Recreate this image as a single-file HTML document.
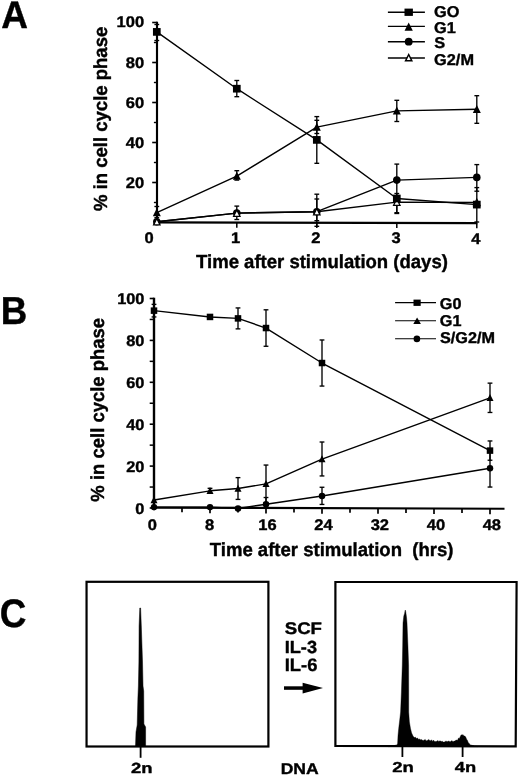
<!DOCTYPE html>
<html><head><meta charset="utf-8"><title>Figure</title>
<style>
html,body{margin:0;padding:0;background:#fff;}
body{width:520px;height:777px;overflow:hidden;font-family:"Liberation Sans",sans-serif;}
svg{display:block;will-change:transform;opacity:0.999}
text{text-rendering:geometricPrecision;white-space:pre}
</style></head><body>
<svg width="520" height="777" viewBox="0 0 520 777">
<rect width="520" height="777" fill="#fff"/>
<text transform="translate(1.34,28.00) scale(0.3701,0.3866)" font-size="100" font-family="Liberation Sans, sans-serif" font-weight="bold" xml:space="preserve" stroke="#000" stroke-width="1.06" stroke-linejoin="round">A</text>
<line x1="157.00" y1="21.70" x2="157.00" y2="223.70" stroke="#000" stroke-width="2.15" stroke-linecap="butt"/>
<line x1="155.60" y1="222.35" x2="477.40" y2="223.20" stroke="#000" stroke-width="2.25" stroke-linecap="butt"/>
<line x1="153.90" y1="202.50" x2="156.80" y2="202.50" stroke="#000" stroke-width="1.4" stroke-linecap="butt"/>
<line x1="152.20" y1="182.50" x2="156.80" y2="182.50" stroke="#000" stroke-width="1.6" stroke-linecap="butt"/>
<line x1="153.90" y1="162.50" x2="156.80" y2="162.50" stroke="#000" stroke-width="1.4" stroke-linecap="butt"/>
<line x1="152.20" y1="142.50" x2="156.80" y2="142.50" stroke="#000" stroke-width="1.6" stroke-linecap="butt"/>
<line x1="153.90" y1="122.50" x2="156.80" y2="122.50" stroke="#000" stroke-width="1.4" stroke-linecap="butt"/>
<line x1="152.20" y1="102.50" x2="156.80" y2="102.50" stroke="#000" stroke-width="1.6" stroke-linecap="butt"/>
<line x1="153.90" y1="82.50" x2="156.80" y2="82.50" stroke="#000" stroke-width="1.4" stroke-linecap="butt"/>
<line x1="152.20" y1="62.50" x2="156.80" y2="62.50" stroke="#000" stroke-width="1.6" stroke-linecap="butt"/>
<line x1="153.90" y1="42.50" x2="156.80" y2="42.50" stroke="#000" stroke-width="1.4" stroke-linecap="butt"/>
<line x1="152.20" y1="22.50" x2="156.80" y2="22.50" stroke="#000" stroke-width="1.6" stroke-linecap="butt"/>
<text transform="translate(125.71,187.80) scale(0.1650,0.1550)" font-size="100" font-family="Liberation Sans, sans-serif" font-weight="bold" xml:space="preserve" stroke="#000" stroke-width="2.50" stroke-linejoin="round">20</text>
<text transform="translate(125.71,147.80) scale(0.1650,0.1550)" font-size="100" font-family="Liberation Sans, sans-serif" font-weight="bold" xml:space="preserve" stroke="#000" stroke-width="2.50" stroke-linejoin="round">40</text>
<text transform="translate(125.71,107.80) scale(0.1650,0.1550)" font-size="100" font-family="Liberation Sans, sans-serif" font-weight="bold" xml:space="preserve" stroke="#000" stroke-width="2.50" stroke-linejoin="round">60</text>
<text transform="translate(125.71,67.80) scale(0.1650,0.1550)" font-size="100" font-family="Liberation Sans, sans-serif" font-weight="bold" xml:space="preserve" stroke="#000" stroke-width="2.50" stroke-linejoin="round">80</text>
<text transform="translate(116.54,26.60) scale(0.1650,0.1550)" font-size="100" font-family="Liberation Sans, sans-serif" font-weight="bold" xml:space="preserve" stroke="#000" stroke-width="2.50" stroke-linejoin="round">100</text>
<line x1="236.80" y1="222.70" x2="236.80" y2="227.70" stroke="#000" stroke-width="1.5" stroke-linecap="butt"/>
<line x1="316.80" y1="222.90" x2="316.80" y2="227.90" stroke="#000" stroke-width="1.5" stroke-linecap="butt"/>
<line x1="396.80" y1="223.10" x2="396.80" y2="228.10" stroke="#000" stroke-width="1.5" stroke-linecap="butt"/>
<line x1="476.80" y1="223.30" x2="476.80" y2="228.30" stroke="#000" stroke-width="1.5" stroke-linecap="butt"/>
<text transform="translate(144.61,242.80) scale(0.1650,0.1530)" font-size="100" font-family="Liberation Sans, sans-serif" font-weight="bold" xml:space="preserve" stroke="#000" stroke-width="2.52" stroke-linejoin="round">0</text>
<text transform="translate(231.03,243.02) scale(0.1650,0.1530)" font-size="100" font-family="Liberation Sans, sans-serif" font-weight="bold" xml:space="preserve" stroke="#000" stroke-width="2.52" stroke-linejoin="round">1</text>
<text transform="translate(311.36,243.24) scale(0.1650,0.1530)" font-size="100" font-family="Liberation Sans, sans-serif" font-weight="bold" xml:space="preserve" stroke="#000" stroke-width="2.52" stroke-linejoin="round">2</text>
<text transform="translate(391.41,243.46) scale(0.1650,0.1530)" font-size="100" font-family="Liberation Sans, sans-serif" font-weight="bold" xml:space="preserve" stroke="#000" stroke-width="2.52" stroke-linejoin="round">3</text>
<text transform="translate(471.23,243.68) scale(0.1650,0.1530)" font-size="100" font-family="Liberation Sans, sans-serif" font-weight="bold" xml:space="preserve" stroke="#000" stroke-width="2.52" stroke-linejoin="round">4</text>
<text transform="translate(196.08,268.45) scale(0.1852,0.1899)" font-size="100" font-family="Liberation Sans, sans-serif" font-weight="bold" xml:space="preserve" stroke="#000" stroke-width="2.13" stroke-linejoin="round">Time after stimulation (days)</text>
<text transform="translate(106.55,210.94) rotate(-90) scale(0.1851,0.1899)" font-size="100" font-family="Liberation Sans, sans-serif" font-weight="bold" xml:space="preserve" stroke="#000" stroke-width="2.13" stroke-linejoin="round">% in cell cycle phase</text>
<polyline points="156.80,31.90 236.80,88.70 316.80,139.90 396.80,198.50 476.80,204.60" fill="none" stroke="#000" stroke-width="1.4" stroke-linejoin="round"/>
<polyline points="156.80,212.70 236.80,176.10 316.80,127.10 396.80,110.90 476.80,109.30" fill="none" stroke="#000" stroke-width="1.4" stroke-linejoin="round"/>
<polyline points="156.80,221.70 236.80,213.10 316.80,211.70 396.80,180.10 476.80,177.40" fill="none" stroke="#000" stroke-width="1.4" stroke-linejoin="round"/>
<polyline points="156.80,221.70 236.80,213.10 316.80,211.70 396.80,202.10 476.80,202.50" fill="none" stroke="#000" stroke-width="1.4" stroke-linejoin="round"/>
<line x1="156.80" y1="24.50" x2="156.80" y2="40.50" stroke="#000" stroke-width="1.35" stroke-linecap="butt"/>
<line x1="154.40" y1="24.50" x2="159.20" y2="24.50" stroke="#000" stroke-width="1.35" stroke-linecap="butt"/>
<line x1="154.40" y1="40.50" x2="159.20" y2="40.50" stroke="#000" stroke-width="1.35" stroke-linecap="butt"/>
<line x1="236.80" y1="80.50" x2="236.80" y2="96.70" stroke="#000" stroke-width="1.35" stroke-linecap="butt"/>
<line x1="234.40" y1="80.50" x2="239.20" y2="80.50" stroke="#000" stroke-width="1.35" stroke-linecap="butt"/>
<line x1="234.40" y1="96.70" x2="239.20" y2="96.70" stroke="#000" stroke-width="1.35" stroke-linecap="butt"/>
<line x1="316.80" y1="120.30" x2="316.80" y2="163.30" stroke="#000" stroke-width="1.35" stroke-linecap="butt"/>
<line x1="314.40" y1="120.30" x2="319.20" y2="120.30" stroke="#000" stroke-width="1.35" stroke-linecap="butt"/>
<line x1="314.40" y1="163.30" x2="319.20" y2="163.30" stroke="#000" stroke-width="1.35" stroke-linecap="butt"/>
<line x1="396.80" y1="193.50" x2="396.80" y2="213.50" stroke="#000" stroke-width="1.35" stroke-linecap="butt"/>
<line x1="394.40" y1="193.50" x2="399.20" y2="193.50" stroke="#000" stroke-width="1.35" stroke-linecap="butt"/>
<line x1="394.40" y1="213.50" x2="399.20" y2="213.50" stroke="#000" stroke-width="1.35" stroke-linecap="butt"/>
<line x1="476.80" y1="187.60" x2="476.80" y2="222.00" stroke="#000" stroke-width="1.35" stroke-linecap="butt"/>
<line x1="474.40" y1="187.60" x2="479.20" y2="187.60" stroke="#000" stroke-width="1.35" stroke-linecap="butt"/>
<line x1="474.40" y1="222.00" x2="479.20" y2="222.00" stroke="#000" stroke-width="1.35" stroke-linecap="butt"/>
<line x1="156.80" y1="206.50" x2="156.80" y2="217.70" stroke="#000" stroke-width="1.35" stroke-linecap="butt"/>
<line x1="154.40" y1="206.50" x2="159.20" y2="206.50" stroke="#000" stroke-width="1.35" stroke-linecap="butt"/>
<line x1="154.40" y1="217.70" x2="159.20" y2="217.70" stroke="#000" stroke-width="1.35" stroke-linecap="butt"/>
<line x1="236.80" y1="170.70" x2="236.80" y2="180.10" stroke="#000" stroke-width="1.35" stroke-linecap="butt"/>
<line x1="234.40" y1="170.70" x2="239.20" y2="170.70" stroke="#000" stroke-width="1.35" stroke-linecap="butt"/>
<line x1="234.40" y1="180.10" x2="239.20" y2="180.10" stroke="#000" stroke-width="1.35" stroke-linecap="butt"/>
<line x1="316.80" y1="116.60" x2="316.80" y2="133.50" stroke="#000" stroke-width="1.35" stroke-linecap="butt"/>
<line x1="314.40" y1="116.60" x2="319.20" y2="116.60" stroke="#000" stroke-width="1.35" stroke-linecap="butt"/>
<line x1="314.40" y1="133.50" x2="319.20" y2="133.50" stroke="#000" stroke-width="1.35" stroke-linecap="butt"/>
<line x1="396.80" y1="100.30" x2="396.80" y2="121.50" stroke="#000" stroke-width="1.35" stroke-linecap="butt"/>
<line x1="394.40" y1="100.30" x2="399.20" y2="100.30" stroke="#000" stroke-width="1.35" stroke-linecap="butt"/>
<line x1="394.40" y1="121.50" x2="399.20" y2="121.50" stroke="#000" stroke-width="1.35" stroke-linecap="butt"/>
<line x1="476.80" y1="95.70" x2="476.80" y2="123.30" stroke="#000" stroke-width="1.35" stroke-linecap="butt"/>
<line x1="474.40" y1="95.70" x2="479.20" y2="95.70" stroke="#000" stroke-width="1.35" stroke-linecap="butt"/>
<line x1="474.40" y1="123.30" x2="479.20" y2="123.30" stroke="#000" stroke-width="1.35" stroke-linecap="butt"/>
<line x1="316.80" y1="194.20" x2="316.80" y2="226.30" stroke="#000" stroke-width="1.35" stroke-linecap="butt"/>
<line x1="314.40" y1="194.20" x2="319.20" y2="194.20" stroke="#000" stroke-width="1.35" stroke-linecap="butt"/>
<line x1="314.40" y1="226.30" x2="319.20" y2="226.30" stroke="#000" stroke-width="1.35" stroke-linecap="butt"/>
<line x1="396.80" y1="164.10" x2="396.80" y2="196.10" stroke="#000" stroke-width="1.35" stroke-linecap="butt"/>
<line x1="394.40" y1="164.10" x2="399.20" y2="164.10" stroke="#000" stroke-width="1.35" stroke-linecap="butt"/>
<line x1="394.40" y1="196.10" x2="399.20" y2="196.10" stroke="#000" stroke-width="1.35" stroke-linecap="butt"/>
<line x1="476.80" y1="164.60" x2="476.80" y2="191.20" stroke="#000" stroke-width="1.35" stroke-linecap="butt"/>
<line x1="474.40" y1="164.60" x2="479.20" y2="164.60" stroke="#000" stroke-width="1.35" stroke-linecap="butt"/>
<line x1="474.40" y1="191.20" x2="479.20" y2="191.20" stroke="#000" stroke-width="1.35" stroke-linecap="butt"/>
<line x1="236.80" y1="206.10" x2="236.80" y2="219.50" stroke="#000" stroke-width="1.35" stroke-linecap="butt"/>
<line x1="234.40" y1="206.10" x2="239.20" y2="206.10" stroke="#000" stroke-width="1.35" stroke-linecap="butt"/>
<line x1="234.40" y1="219.50" x2="239.20" y2="219.50" stroke="#000" stroke-width="1.35" stroke-linecap="butt"/>
<line x1="316.80" y1="199.00" x2="316.80" y2="220.70" stroke="#000" stroke-width="1.35" stroke-linecap="butt"/>
<line x1="314.40" y1="199.00" x2="319.20" y2="199.00" stroke="#000" stroke-width="1.35" stroke-linecap="butt"/>
<line x1="314.40" y1="220.70" x2="319.20" y2="220.70" stroke="#000" stroke-width="1.35" stroke-linecap="butt"/>
<line x1="396.80" y1="196.10" x2="396.80" y2="212.70" stroke="#000" stroke-width="1.35" stroke-linecap="butt"/>
<line x1="394.40" y1="196.10" x2="399.20" y2="196.10" stroke="#000" stroke-width="1.35" stroke-linecap="butt"/>
<line x1="394.40" y1="212.70" x2="399.20" y2="212.70" stroke="#000" stroke-width="1.35" stroke-linecap="butt"/>
<circle cx="156.80" cy="221.70" r="3.8" fill="#000"/>
<circle cx="236.80" cy="213.10" r="3.8" fill="#000"/>
<circle cx="316.80" cy="211.70" r="3.8" fill="#000"/>
<circle cx="396.80" cy="180.10" r="3.8" fill="#000"/>
<circle cx="476.80" cy="177.40" r="3.8" fill="#000"/>
<polygon points="156.80,218.48 153.60,224.88 160.00,224.88" fill="#fff" stroke="#000" stroke-width="1.3"/>
<polygon points="236.80,209.88 233.60,216.28 240.00,216.28" fill="#fff" stroke="#000" stroke-width="1.3"/>
<polygon points="316.80,208.48 313.60,214.88 320.00,214.88" fill="#fff" stroke="#000" stroke-width="1.3"/>
<polygon points="396.80,198.88 393.60,205.28 400.00,205.28" fill="#fff" stroke="#000" stroke-width="1.3"/>
<polygon points="476.80,199.28 473.60,205.68 480.00,205.68" fill="#fff" stroke="#000" stroke-width="1.3"/>
<rect x="152.95" y="28.05" width="7.7" height="7.7" fill="#000"/>
<rect x="232.95" y="84.85" width="7.7" height="7.7" fill="#000"/>
<rect x="312.95" y="136.05" width="7.7" height="7.7" fill="#000"/>
<rect x="392.95" y="194.65" width="7.7" height="7.7" fill="#000"/>
<rect x="472.95" y="200.75" width="7.7" height="7.7" fill="#000"/>
<polygon points="156.80,208.30 152.80,216.30 160.80,216.30" fill="#000"/>
<polygon points="236.80,171.70 232.80,179.70 240.80,179.70" fill="#000"/>
<polygon points="316.80,122.70 312.80,130.70 320.80,130.70" fill="#000"/>
<polygon points="396.80,106.50 392.80,114.50 400.80,114.50" fill="#000"/>
<polygon points="476.80,104.90 472.80,112.90 480.80,112.90" fill="#000"/>
<line x1="387.90" y1="12.20" x2="424.90" y2="12.20" stroke="#000" stroke-width="1.35" stroke-linecap="butt"/>
<rect x="404.50" y="8.60" width="8.4" height="7.3" fill="#000"/>
<text transform="translate(434.12,17.30) scale(0.1630,0.1560)" font-size="100" font-family="Liberation Sans, sans-serif" font-weight="bold" xml:space="preserve" stroke="#000" stroke-width="2.51" stroke-linejoin="round">GO</text>
<line x1="387.90" y1="26.30" x2="424.90" y2="26.30" stroke="#000" stroke-width="1.35" stroke-linecap="butt"/>
<polygon points="408.70,22.59 404.60,30.79 412.80,30.79" fill="#000"/>
<text transform="translate(434.12,32.90) scale(0.1630,0.1560)" font-size="100" font-family="Liberation Sans, sans-serif" font-weight="bold" xml:space="preserve" stroke="#000" stroke-width="2.51" stroke-linejoin="round">G1</text>
<line x1="387.90" y1="41.70" x2="424.90" y2="41.70" stroke="#000" stroke-width="1.35" stroke-linecap="butt"/>
<circle cx="408.70" cy="41.70" r="3.9" fill="#000"/>
<text transform="translate(434.31,47.90) scale(0.1630,0.1560)" font-size="100" font-family="Liberation Sans, sans-serif" font-weight="bold" xml:space="preserve" stroke="#000" stroke-width="2.51" stroke-linejoin="round">S</text>
<line x1="387.90" y1="58.00" x2="424.90" y2="58.00" stroke="#000" stroke-width="1.35" stroke-linecap="butt"/>
<polygon points="408.70,54.53 405.55,60.84 411.85,60.84" fill="#fff" stroke="#000" stroke-width="1.45"/>
<text transform="translate(434.12,64.50) scale(0.1630,0.1560)" font-size="100" font-family="Liberation Sans, sans-serif" font-weight="bold" xml:space="preserve" stroke="#000" stroke-width="2.51" stroke-linejoin="round">G2/M</text>
<text transform="translate(0.78,324.30) scale(0.3672,0.3895)" font-size="100" font-family="Liberation Sans, sans-serif" font-weight="bold" xml:space="preserve" stroke="#000" stroke-width="1.06" stroke-linejoin="round">B</text>
<line x1="154.00" y1="297.70" x2="154.00" y2="509.20" stroke="#000" stroke-width="2.4" stroke-linecap="butt"/>
<line x1="152.80" y1="507.60" x2="504.50" y2="508.75" stroke="#000" stroke-width="2.2" stroke-linecap="butt"/>
<line x1="149.70" y1="508.00" x2="154.00" y2="508.00" stroke="#000" stroke-width="1.6" stroke-linecap="butt"/>
<line x1="149.70" y1="487.05" x2="154.00" y2="487.05" stroke="#000" stroke-width="1.5" stroke-linecap="butt"/>
<line x1="149.70" y1="466.10" x2="154.00" y2="466.10" stroke="#000" stroke-width="1.6" stroke-linecap="butt"/>
<line x1="149.70" y1="445.15" x2="154.00" y2="445.15" stroke="#000" stroke-width="1.5" stroke-linecap="butt"/>
<line x1="149.70" y1="424.20" x2="154.00" y2="424.20" stroke="#000" stroke-width="1.6" stroke-linecap="butt"/>
<line x1="149.70" y1="403.25" x2="154.00" y2="403.25" stroke="#000" stroke-width="1.5" stroke-linecap="butt"/>
<line x1="149.70" y1="382.30" x2="154.00" y2="382.30" stroke="#000" stroke-width="1.6" stroke-linecap="butt"/>
<line x1="149.70" y1="361.35" x2="154.00" y2="361.35" stroke="#000" stroke-width="1.5" stroke-linecap="butt"/>
<line x1="149.70" y1="340.40" x2="154.00" y2="340.40" stroke="#000" stroke-width="1.6" stroke-linecap="butt"/>
<line x1="149.70" y1="319.45" x2="154.00" y2="319.45" stroke="#000" stroke-width="1.5" stroke-linecap="butt"/>
<line x1="149.70" y1="298.50" x2="154.00" y2="298.50" stroke="#000" stroke-width="1.6" stroke-linecap="butt"/>
<text transform="translate(135.29,513.80) scale(0.1630,0.1550)" font-size="100" font-family="Liberation Sans, sans-serif" font-weight="bold" xml:space="preserve" stroke="#000" stroke-width="2.52" stroke-linejoin="round">0</text>
<text transform="translate(126.23,471.90) scale(0.1630,0.1550)" font-size="100" font-family="Liberation Sans, sans-serif" font-weight="bold" xml:space="preserve" stroke="#000" stroke-width="2.52" stroke-linejoin="round">20</text>
<text transform="translate(126.23,430.00) scale(0.1630,0.1550)" font-size="100" font-family="Liberation Sans, sans-serif" font-weight="bold" xml:space="preserve" stroke="#000" stroke-width="2.52" stroke-linejoin="round">40</text>
<text transform="translate(126.23,388.10) scale(0.1630,0.1550)" font-size="100" font-family="Liberation Sans, sans-serif" font-weight="bold" xml:space="preserve" stroke="#000" stroke-width="2.52" stroke-linejoin="round">60</text>
<text transform="translate(126.23,346.20) scale(0.1630,0.1550)" font-size="100" font-family="Liberation Sans, sans-serif" font-weight="bold" xml:space="preserve" stroke="#000" stroke-width="2.52" stroke-linejoin="round">80</text>
<text transform="translate(117.16,304.30) scale(0.1630,0.1550)" font-size="100" font-family="Liberation Sans, sans-serif" font-weight="bold" xml:space="preserve" stroke="#000" stroke-width="2.52" stroke-linejoin="round">100</text>
<line x1="182.00" y1="507.69" x2="182.00" y2="512.19" stroke="#000" stroke-width="1.7" stroke-linecap="butt"/>
<line x1="210.00" y1="507.78" x2="210.00" y2="513.28" stroke="#000" stroke-width="1.7" stroke-linecap="butt"/>
<line x1="238.00" y1="507.88" x2="238.00" y2="512.38" stroke="#000" stroke-width="1.7" stroke-linecap="butt"/>
<line x1="266.00" y1="507.97" x2="266.00" y2="513.47" stroke="#000" stroke-width="1.7" stroke-linecap="butt"/>
<line x1="294.00" y1="508.06" x2="294.00" y2="512.56" stroke="#000" stroke-width="1.7" stroke-linecap="butt"/>
<line x1="322.00" y1="508.15" x2="322.00" y2="513.65" stroke="#000" stroke-width="1.7" stroke-linecap="butt"/>
<line x1="350.00" y1="508.24" x2="350.00" y2="512.74" stroke="#000" stroke-width="1.7" stroke-linecap="butt"/>
<line x1="378.00" y1="508.34" x2="378.00" y2="513.84" stroke="#000" stroke-width="1.7" stroke-linecap="butt"/>
<line x1="406.00" y1="508.43" x2="406.00" y2="512.93" stroke="#000" stroke-width="1.7" stroke-linecap="butt"/>
<line x1="434.00" y1="508.52" x2="434.00" y2="514.02" stroke="#000" stroke-width="1.7" stroke-linecap="butt"/>
<line x1="462.00" y1="508.61" x2="462.00" y2="513.11" stroke="#000" stroke-width="1.7" stroke-linecap="butt"/>
<line x1="490.00" y1="508.70" x2="490.00" y2="514.20" stroke="#000" stroke-width="1.7" stroke-linecap="butt"/>
<text transform="translate(147.81,529.50) scale(0.1650,0.1530)" font-size="100" font-family="Liberation Sans, sans-serif" font-weight="bold" xml:space="preserve" stroke="#000" stroke-width="2.52" stroke-linejoin="round">0</text>
<text transform="translate(205.10,529.66) scale(0.1650,0.1530)" font-size="100" font-family="Liberation Sans, sans-serif" font-weight="bold" xml:space="preserve" stroke="#000" stroke-width="2.52" stroke-linejoin="round">8</text>
<text transform="translate(258.31,529.82) scale(0.1650,0.1530)" font-size="100" font-family="Liberation Sans, sans-serif" font-weight="bold" xml:space="preserve" stroke="#000" stroke-width="2.52" stroke-linejoin="round">16</text>
<text transform="translate(314.29,529.98) scale(0.1650,0.1530)" font-size="100" font-family="Liberation Sans, sans-serif" font-weight="bold" xml:space="preserve" stroke="#000" stroke-width="2.52" stroke-linejoin="round">24</text>
<text transform="translate(370.66,530.14) scale(0.1650,0.1530)" font-size="100" font-family="Liberation Sans, sans-serif" font-weight="bold" xml:space="preserve" stroke="#000" stroke-width="2.52" stroke-linejoin="round">32</text>
<text transform="translate(426.72,530.30) scale(0.1650,0.1530)" font-size="100" font-family="Liberation Sans, sans-serif" font-weight="bold" xml:space="preserve" stroke="#000" stroke-width="2.52" stroke-linejoin="round">40</text>
<text transform="translate(482.64,530.46) scale(0.1650,0.1530)" font-size="100" font-family="Liberation Sans, sans-serif" font-weight="bold" xml:space="preserve" stroke="#000" stroke-width="2.52" stroke-linejoin="round">48</text>
<text transform="translate(209.78,555.75) scale(0.1853,0.1899)" font-size="100" font-family="Liberation Sans, sans-serif" font-weight="bold" xml:space="preserve" stroke="#000" stroke-width="2.13" stroke-linejoin="round">Time after stimulation  (hrs)</text>
<text transform="translate(104.45,501.64) rotate(-90) scale(0.1847,0.1899)" font-size="100" font-family="Liberation Sans, sans-serif" font-weight="bold" xml:space="preserve" stroke="#000" stroke-width="2.14" stroke-linejoin="round">% in cell cycle phase</text>
<polyline points="154.00,310.65 210.00,316.94 238.00,318.40 266.00,328.04 322.00,363.03 490.00,450.60" fill="none" stroke="#000" stroke-width="1.4" stroke-linejoin="round"/>
<polyline points="154.00,500.04 210.00,490.82 238.00,488.52 266.00,483.91 322.00,459.19 490.00,397.80" fill="none" stroke="#000" stroke-width="1.4" stroke-linejoin="round"/>
<polyline points="154.00,507.16 210.00,507.16 238.00,508.42 266.00,504.23 322.00,496.06 490.00,468.19" fill="none" stroke="#000" stroke-width="1.4" stroke-linejoin="round"/>
<line x1="154.00" y1="304.37" x2="154.00" y2="316.94" stroke="#000" stroke-width="1.35" stroke-linecap="butt"/>
<line x1="151.60" y1="304.37" x2="156.40" y2="304.37" stroke="#000" stroke-width="1.35" stroke-linecap="butt"/>
<line x1="151.60" y1="316.94" x2="156.40" y2="316.94" stroke="#000" stroke-width="1.35" stroke-linecap="butt"/>
<line x1="238.00" y1="307.93" x2="238.00" y2="328.88" stroke="#000" stroke-width="1.35" stroke-linecap="butt"/>
<line x1="235.60" y1="307.93" x2="240.40" y2="307.93" stroke="#000" stroke-width="1.35" stroke-linecap="butt"/>
<line x1="235.60" y1="328.88" x2="240.40" y2="328.88" stroke="#000" stroke-width="1.35" stroke-linecap="butt"/>
<line x1="266.00" y1="309.81" x2="266.00" y2="346.27" stroke="#000" stroke-width="1.35" stroke-linecap="butt"/>
<line x1="263.60" y1="309.81" x2="268.40" y2="309.81" stroke="#000" stroke-width="1.35" stroke-linecap="butt"/>
<line x1="263.60" y1="346.27" x2="268.40" y2="346.27" stroke="#000" stroke-width="1.35" stroke-linecap="butt"/>
<line x1="322.00" y1="339.98" x2="322.00" y2="386.07" stroke="#000" stroke-width="1.35" stroke-linecap="butt"/>
<line x1="319.60" y1="339.98" x2="324.40" y2="339.98" stroke="#000" stroke-width="1.35" stroke-linecap="butt"/>
<line x1="319.60" y1="386.07" x2="324.40" y2="386.07" stroke="#000" stroke-width="1.35" stroke-linecap="butt"/>
<line x1="490.00" y1="440.96" x2="490.00" y2="460.23" stroke="#000" stroke-width="1.35" stroke-linecap="butt"/>
<line x1="487.60" y1="440.96" x2="492.40" y2="440.96" stroke="#000" stroke-width="1.35" stroke-linecap="butt"/>
<line x1="487.60" y1="460.23" x2="492.40" y2="460.23" stroke="#000" stroke-width="1.35" stroke-linecap="butt"/>
<line x1="210.00" y1="488.31" x2="210.00" y2="493.34" stroke="#000" stroke-width="1.35" stroke-linecap="butt"/>
<line x1="207.60" y1="488.31" x2="212.40" y2="488.31" stroke="#000" stroke-width="1.35" stroke-linecap="butt"/>
<line x1="207.60" y1="493.34" x2="212.40" y2="493.34" stroke="#000" stroke-width="1.35" stroke-linecap="butt"/>
<line x1="238.00" y1="477.62" x2="238.00" y2="499.41" stroke="#000" stroke-width="1.35" stroke-linecap="butt"/>
<line x1="235.60" y1="477.62" x2="240.40" y2="477.62" stroke="#000" stroke-width="1.35" stroke-linecap="butt"/>
<line x1="235.60" y1="499.41" x2="240.40" y2="499.41" stroke="#000" stroke-width="1.35" stroke-linecap="butt"/>
<line x1="266.00" y1="465.05" x2="266.00" y2="502.76" stroke="#000" stroke-width="1.35" stroke-linecap="butt"/>
<line x1="263.60" y1="465.05" x2="268.40" y2="465.05" stroke="#000" stroke-width="1.35" stroke-linecap="butt"/>
<line x1="263.60" y1="502.76" x2="268.40" y2="502.76" stroke="#000" stroke-width="1.35" stroke-linecap="butt"/>
<line x1="322.00" y1="442.01" x2="322.00" y2="475.95" stroke="#000" stroke-width="1.35" stroke-linecap="butt"/>
<line x1="319.60" y1="442.01" x2="324.40" y2="442.01" stroke="#000" stroke-width="1.35" stroke-linecap="butt"/>
<line x1="319.60" y1="475.95" x2="324.40" y2="475.95" stroke="#000" stroke-width="1.35" stroke-linecap="butt"/>
<line x1="490.00" y1="383.14" x2="490.00" y2="412.47" stroke="#000" stroke-width="1.35" stroke-linecap="butt"/>
<line x1="487.60" y1="383.14" x2="492.40" y2="383.14" stroke="#000" stroke-width="1.35" stroke-linecap="butt"/>
<line x1="487.60" y1="412.47" x2="492.40" y2="412.47" stroke="#000" stroke-width="1.35" stroke-linecap="butt"/>
<line x1="266.00" y1="497.52" x2="266.00" y2="507.37" stroke="#000" stroke-width="1.35" stroke-linecap="butt"/>
<line x1="263.60" y1="497.52" x2="268.40" y2="497.52" stroke="#000" stroke-width="1.35" stroke-linecap="butt"/>
<line x1="263.60" y1="507.37" x2="268.40" y2="507.37" stroke="#000" stroke-width="1.35" stroke-linecap="butt"/>
<line x1="322.00" y1="487.26" x2="322.00" y2="504.44" stroke="#000" stroke-width="1.35" stroke-linecap="butt"/>
<line x1="319.60" y1="487.26" x2="324.40" y2="487.26" stroke="#000" stroke-width="1.35" stroke-linecap="butt"/>
<line x1="319.60" y1="504.44" x2="324.40" y2="504.44" stroke="#000" stroke-width="1.35" stroke-linecap="butt"/>
<line x1="490.00" y1="449.34" x2="490.00" y2="487.05" stroke="#000" stroke-width="1.35" stroke-linecap="butt"/>
<line x1="487.60" y1="449.34" x2="492.40" y2="449.34" stroke="#000" stroke-width="1.35" stroke-linecap="butt"/>
<line x1="487.60" y1="487.05" x2="492.40" y2="487.05" stroke="#000" stroke-width="1.35" stroke-linecap="butt"/>
<rect x="150.75" y="307.40" width="6.5" height="6.5" fill="#000"/>
<rect x="206.75" y="313.69" width="6.5" height="6.5" fill="#000"/>
<rect x="234.75" y="315.15" width="6.5" height="6.5" fill="#000"/>
<rect x="262.75" y="324.79" width="6.5" height="6.5" fill="#000"/>
<rect x="318.75" y="359.78" width="6.5" height="6.5" fill="#000"/>
<rect x="486.75" y="447.35" width="6.5" height="6.5" fill="#000"/>
<polygon points="154.00,496.19 150.50,503.19 157.50,503.19" fill="#000"/>
<polygon points="210.00,486.97 206.50,493.97 213.50,493.97" fill="#000"/>
<polygon points="238.00,484.67 234.50,491.67 241.50,491.67" fill="#000"/>
<polygon points="266.00,480.06 262.50,487.06 269.50,487.06" fill="#000"/>
<polygon points="322.00,455.34 318.50,462.34 325.50,462.34" fill="#000"/>
<polygon points="490.00,393.95 486.50,400.95 493.50,400.95" fill="#000"/>
<circle cx="154.00" cy="507.16" r="3.25" fill="#000"/>
<circle cx="210.00" cy="507.16" r="3.25" fill="#000"/>
<circle cx="238.00" cy="508.42" r="3.25" fill="#000"/>
<circle cx="266.00" cy="504.23" r="3.25" fill="#000"/>
<circle cx="322.00" cy="496.06" r="3.25" fill="#000"/>
<circle cx="490.00" cy="468.19" r="3.25" fill="#000"/>
<line x1="395.10" y1="302.60" x2="436.00" y2="302.60" stroke="#000" stroke-width="1.1" stroke-linecap="butt"/>
<rect x="413.50" y="299.60" width="7.2" height="6.3" fill="#000"/>
<text transform="translate(439.82,309.20) scale(0.1620,0.1560)" font-size="100" font-family="Liberation Sans, sans-serif" font-weight="bold" xml:space="preserve" stroke="#000" stroke-width="2.52" stroke-linejoin="round">G0</text>
<line x1="395.10" y1="320.70" x2="436.00" y2="320.70" stroke="#000" stroke-width="1.1" stroke-linecap="butt"/>
<polygon points="417.1,317.60 413.3,324.10 420.9,324.10" fill="#000"/>
<text transform="translate(439.82,326.20) scale(0.1620,0.1560)" font-size="100" font-family="Liberation Sans, sans-serif" font-weight="bold" xml:space="preserve" stroke="#000" stroke-width="2.52" stroke-linejoin="round">G1</text>
<line x1="395.10" y1="338.80" x2="436.00" y2="338.80" stroke="#000" stroke-width="1.1" stroke-linecap="butt"/>
<circle cx="416.90" cy="338.90" r="3.3" fill="#000"/>
<text transform="translate(440.01,343.40) scale(0.1620,0.1560)" font-size="100" font-family="Liberation Sans, sans-serif" font-weight="bold" xml:space="preserve" stroke="#000" stroke-width="2.52" stroke-linejoin="round">S/G2/M</text>
<text transform="translate(-0.15,626.50) scale(0.3681,0.3983)" font-size="100" font-family="Liberation Sans, sans-serif" font-weight="bold" xml:space="preserve" stroke="#000" stroke-width="1.04" stroke-linejoin="round">C</text>
<rect x="86.55" y="581.8" width="181.85" height="164.7" fill="none" stroke="#000" stroke-width="2.2"/>
<polygon points="335.4,582 516.6,582 515.7,746.3 335.4,745.8" fill="none" stroke="#000" stroke-width="2.2" stroke-linejoin="miter"/>
<polygon fill="#000" stroke="#000" stroke-width="0.5" stroke-linejoin="round" points="139.8,608 140.6,608 141.3,626 142.5,662 143,686 143.7,691 143.9,724 145.6,727 145.6,746.5 135.5,746.5 136,732 137.2,725 137.9,698 138.4,686 138.9,662 139.1,626"/>
<line x1="140.60" y1="746.50" x2="140.60" y2="757.80" stroke="#000" stroke-width="1.8" stroke-linecap="butt"/>
<text transform="translate(130.97,772.80) scale(0.1850,0.1461)" font-size="100" font-family="Liberation Sans, sans-serif" font-weight="bold" xml:space="preserve" stroke="#000" stroke-width="2.42" stroke-linejoin="round">2n</text>
<text transform="translate(284.74,634.03) scale(0.1861,0.1681)" font-size="100" font-family="Liberation Sans, sans-serif" font-weight="bold" xml:space="preserve" stroke="#000" stroke-width="2.26" stroke-linejoin="round">SCF</text>
<text transform="translate(284.70,652.69) scale(0.1820,0.1746)" font-size="100" font-family="Liberation Sans, sans-serif" font-weight="bold" xml:space="preserve" stroke="#000" stroke-width="2.24" stroke-linejoin="round">IL-3</text>
<text transform="translate(284.69,671.42) scale(0.1838,0.1808)" font-size="100" font-family="Liberation Sans, sans-serif" font-weight="bold" xml:space="preserve" stroke="#000" stroke-width="2.19" stroke-linejoin="round">IL-6</text>
<rect x="284.0" y="686.3" width="20" height="3.5" fill="#000"/>
<polygon fill="#000" points="323.0,688.1 302.6,682.8 302.6,693.6"/>
<text transform="translate(280.64,773.60) scale(0.1760,0.1555)" font-size="100" font-family="Liberation Sans, sans-serif" font-weight="bold" xml:space="preserve" stroke="#000" stroke-width="2.41" stroke-linejoin="round">DNA</text>
<polygon fill="#000" stroke="#000" stroke-width="0.4" stroke-linejoin="round" points="388.5,746.6 391.0,746.0 394.0,745.6 396.5,745.0 397.6,744.0 398.0,735.6 398.7,728.6 399.6,721.0 400.6,712.0 401.4,692.0 402.3,665.0 402.7,645.0 403.0,623.0 403.8,616.0 404.6,613.4 405.0,611.0 405.3,610.0 405.7,611.5 406.0,613.5 406.6,618.0 407.0,623.0 407.9,645.0 408.6,665.0 408.7,690.0 408.7,712.0 409.4,722.0 410.5,728.6 411.6,733.0 412.8,735.6 413.5,736.8 414.4,737.6 415.3,737.1 416.2,738.5 417.1,738.0 418.0,738.6 418.9,739.5 419.8,738.9 420.7,740.0 421.6,739.5 422.5,740.3 423.4,740.4 424.3,740.0 425.2,739.4 426.1,740.8 427.0,740.7 427.9,740.1 428.8,739.6 429.7,740.4 430.6,740.8 431.5,739.8 432.4,741.5 433.3,740.1 434.2,741.2 435.1,741.5 436.0,741.6 436.9,741.3 437.8,740.4 438.7,741.6 439.6,740.9 440.5,741.0 441.4,741.5 442.3,741.2 443.2,742.1 444.1,742.1 445.0,741.8 445.9,741.0 446.8,741.4 447.7,741.6 448.6,741.1 449.5,741.4 450.4,741.7 451.3,740.8 452.2,740.9 453.1,741.7 454.0,741.1 454.9,741.1 455.8,740.2 456.7,740.1 457.6,740.3 458.5,738.1 459.4,738.4 460.3,736.6 461.2,734.8 462.1,735.2 463.0,734.6 463.9,736.0 464.8,736.0 465.7,737.1 466.6,739.2 467.5,740.5 468.4,743.0 469.3,743.5 470.2,744.9 471.1,745.0 472.0,745.4 472.9,745.5 473.8,745.8 474.7,746.3 475.6,746.4 476.5,746.4 477.5,746.6"/>
<line x1="402.40" y1="746.50" x2="402.40" y2="757.00" stroke="#000" stroke-width="1.8" stroke-linecap="butt"/>
<line x1="462.60" y1="746.50" x2="462.60" y2="757.00" stroke="#000" stroke-width="1.8" stroke-linecap="butt"/>
<text transform="translate(392.27,772.40) scale(0.1860,0.1433)" font-size="100" font-family="Liberation Sans, sans-serif" font-weight="bold" xml:space="preserve" stroke="#000" stroke-width="2.43" stroke-linejoin="round">2n</text>
<text transform="translate(454.71,772.40) scale(0.1838,0.1453)" font-size="100" font-family="Liberation Sans, sans-serif" font-weight="bold" xml:space="preserve" stroke="#000" stroke-width="2.43" stroke-linejoin="round">4n</text>
</svg>
</body></html>
